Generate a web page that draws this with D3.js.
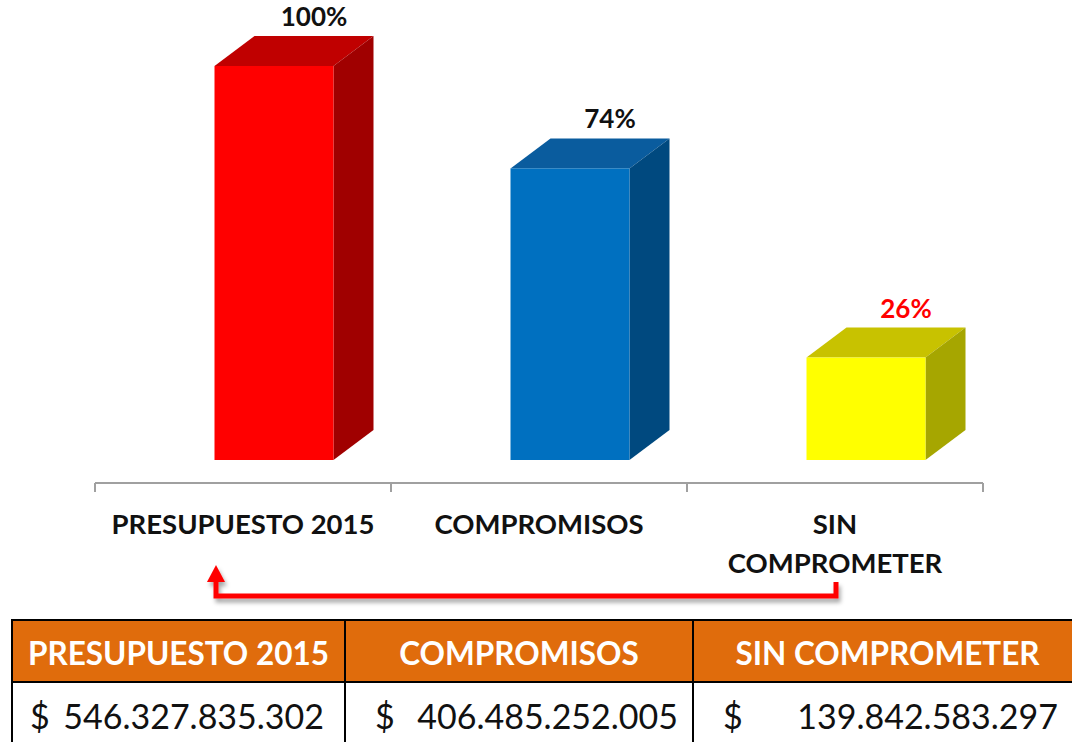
<!DOCTYPE html>
<html>
<head>
<meta charset="utf-8">
<script src="https://cdn.jsdelivr.net/npm/d3@7"></script>
<style>
  html, body { margin: 0; padding: 0; background: #fff; }
  svg { display: block; }
  text { font-family: Lato, "Open Sans", sans-serif; }
</style>
</head>
<body>
<svg id="chart" width="1072" height="742"></svg>
<script>
// Budget execution 2015
const categories = ["PRESUPUESTO 2015", "COMPROMISOS", "SIN COMPROMETER"];
const axisLabelLines = [["PRESUPUESTO 2015"], ["COMPROMISOS"], ["SIN", "COMPROMETER"]];
const percentages = [100, 74, 26];
const amounts = ["546.327.835.302", "406.485.252.005", "139.842.583.297"];
const frontColors = ["#FF0000", "#0070C0", "#FFFF00"];
const topColors = ["#C00000", "#0A5C9E", "#C8C200"];
const sideColors = ["#A00000", "#00497F", "#A6A600"];
const labelColors = ["#111111", "#111111", "#FF0000"];

const svg = d3.select("#chart");

// layout
const axisY = 483, baseY = 460;
const depthX = 40, depthY = -30;
const barWidth = 119, barShift = 31;

const x = d3.scaleBand().domain(categories).range([95, 983]).padding(0);
const y = d3.scaleLinear().domain([0, 100]).range([baseY, 66]);

const defs = svg.append("defs");
const shadow = defs.append("filter").attr("id", "shadow")
  .attr("x", "-10%").attr("y", "-50%").attr("width", "120%").attr("height", "200%");
shadow.append("feDropShadow").attr("dx", 2).attr("dy", 4).attr("stdDeviation", 2)
  .attr("flood-color", "#000").attr("flood-opacity", 0.35);

// 3D boxes
const bars = svg.append("g").selectAll("g").data(categories).join("g");
bars.each(function (c, i) {
  const g = d3.select(this);
  const x0 = x(c) + x.bandwidth() / 2 + barShift - barWidth / 2;
  const x1 = x0 + barWidth;
  const yt = y(percentages[i]);
  const yb = y(0);
  // top face
  g.append("path")
    .attr("d", `M${x0},${yt}L${x0 + depthX},${yt + depthY}L${x1 + depthX},${yt + depthY}L${x1},${yt}Z`)
    .attr("fill", topColors[i]);
  // side face
  g.append("path")
    .attr("d", `M${x1},${yt}L${x1 + depthX},${yt + depthY}L${x1 + depthX},${yb + depthY}L${x1},${yb}Z`)
    .attr("fill", sideColors[i]);
  // front face
  g.append("rect").attr("x", x0).attr("y", yt).attr("width", barWidth).attr("height", yb - yt)
    .attr("fill", frontColors[i]);
  // value label
  g.append("text")
    .attr("x", (x0 + x1) / 2 + depthX)
    .attr("y", yt + depthY - 10)
    .attr("text-anchor", "middle")
    .attr("font-weight", "bold").attr("font-size", 26)
    .attr("fill", labelColors[i])
    .text(percentages[i] + "%");
});

// category axis
const axisG = svg.append("g");
axisG.append("line").attr("x1", x.range()[0]).attr("x2", x.range()[1])
  .attr("y1", axisY).attr("y2", axisY).attr("stroke", "#A0A0A0").attr("stroke-width", 2);
const tickXs = categories.map(c => x(c)).concat([x.range()[1]]);
axisG.selectAll("line.tick").data(tickXs).join("line").attr("class", "tick")
  .attr("x1", d => d).attr("x2", d => d).attr("y1", axisY).attr("y2", axisY + 9)
  .attr("stroke", "#A0A0A0").attr("stroke-width", 2);
axisG.selectAll("text").data(categories).join("text")
  .attr("x", c => x(c) + x.bandwidth() / 2)
  .attr("y", 534)
  .attr("text-anchor", "middle")
  .attr("font-weight", "bold").attr("font-size", 27.5).attr("fill", "#111")
  .each(function (c, i) {
    d3.select(this).selectAll("tspan").data(axisLabelLines[i]).join("tspan")
      .attr("x", x(c) + x.bandwidth() / 2)
      .attr("dy", (d, j) => j === 0 ? 0 : 39)
      .text(d => d);
  });

// connector arrow from "SIN COMPROMETER" back to the budget
const arrowFrom = x(categories[2]) + x.bandwidth() / 2 + 1;
const arrowTo = x(categories[0]) + x.bandwidth() / 2 - 27;
const arrowG = svg.append("g").attr("filter", "url(#shadow)");
arrowG.append("path")
  .attr("d", `M${arrowFrom},582V596H${arrowTo}V579`)
  .attr("fill", "none").attr("stroke", "#FF0000").attr("stroke-width", 5)
  .attr("stroke-linejoin", "miter");
arrowG.append("path")
  .attr("d", `M${arrowTo},565L${arrowTo + 9},582L${arrowTo - 9},582Z`)
  .attr("fill", "#FF0000");

// amounts table
const tableX = [12, 345, 693, 1090];
const headerTop = 620, headerBottom = 682, tableBottom = 760;
const tg = svg.append("g");
tg.append("rect").attr("x", tableX[0]).attr("y", headerTop)
  .attr("width", tableX[3] - tableX[0]).attr("height", headerBottom - headerTop)
  .attr("fill", "#E06C0C");
tg.append("rect").attr("x", tableX[0]).attr("y", headerTop)
  .attr("width", tableX[3] - tableX[0]).attr("height", tableBottom - headerTop)
  .attr("fill", "none").attr("stroke", "#000").attr("stroke-width", 2);
tg.append("line").attr("x1", tableX[0]).attr("x2", tableX[3])
  .attr("y1", headerBottom).attr("y2", headerBottom).attr("stroke", "#000").attr("stroke-width", 2);
tg.selectAll("line.div").data([tableX[1], tableX[2]]).join("line").attr("class", "div")
  .attr("x1", d => d).attr("x2", d => d).attr("y1", headerTop).attr("y2", tableBottom)
  .attr("stroke", "#000").attr("stroke-width", 2);

const colCenters = [(12 + 345) / 2, (345 + 693) / 2, (693 + 1072) / 2 + 5];
tg.selectAll("text.head").data(categories).join("text").attr("class", "head")
  .attr("x", (d, i) => colCenters[i]).attr("y", 665)
  .attr("text-anchor", "middle").attr("font-weight", "bold").attr("font-size", 31.5)
  .attr("fill", "#fff").text(d => d);

const dollarX = [30, 375, 723];
const numRight = [324, 678, 1058];
tg.selectAll("text.cur").data(amounts).join("text").attr("class", "cur")
  .attr("x", (d, i) => dollarX[i]).attr("y", 729)
  .attr("font-size", 34).attr("fill", "#111").text("$");
tg.selectAll("text.amt").data(amounts).join("text").attr("class", "amt")
  .attr("x", (d, i) => numRight[i]).attr("y", 729)
  .attr("text-anchor", "end").attr("font-size", 34).attr("fill", "#111").text(d => d);
</script>
</body>
</html>
